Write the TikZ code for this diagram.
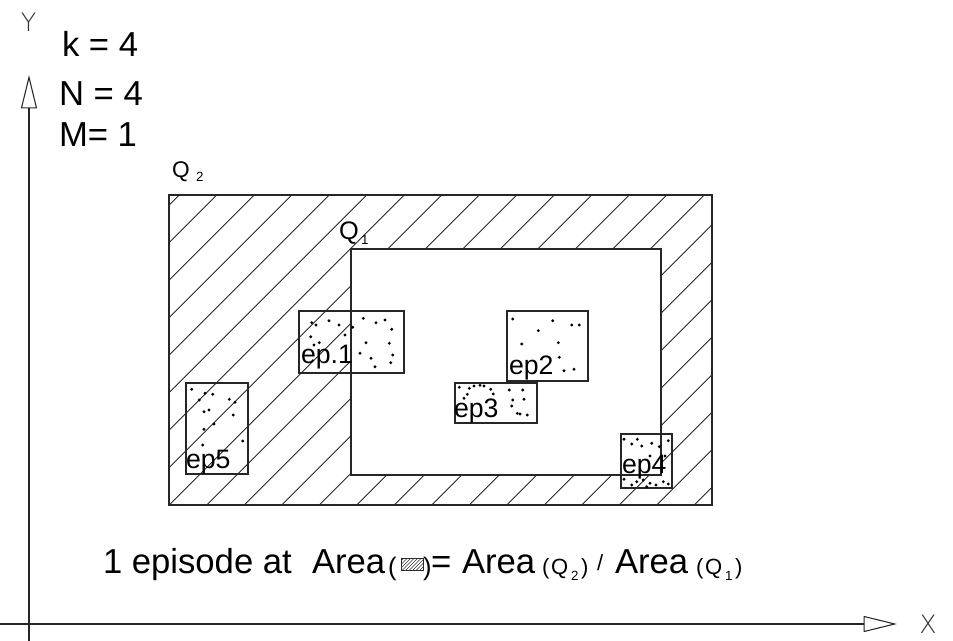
\documentclass[tikz,border=0pt]{standalone}
\usepackage{fontspec}
\setmainfont{Liberation Sans}
\newfontfamily\thinfont{DejaVu Sans ExtraLight}
\usetikzlibrary{arrows.meta}
\begin{document}
\begin{tikzpicture}[x=0.75pt,y=-0.75pt,
  ln/.style={draw=black!85, line width=0.8pt},
  hatch/.style={draw=black!85, line width=0.6pt},
  lbl/.style={inner sep=0pt, outer sep=0pt, anchor=base west},
  big/.style={lbl, font=\fontsize{26}{30}\selectfont},
  form/.style={lbl, font=\fontsize{26}{30}\selectfont},
  paren/.style={lbl, font=\fontsize{19}{22}\selectfont},
  smallq/.style={lbl, font=\fontsize{16.5}{19}\selectfont},
  sub/.style={lbl, font=\fontsize{10}{11}\selectfont},
  eplbl/.style={lbl, font=\fontsize{20}{24}\selectfont},
  axlbl/.style={inner sep=0pt, font=\thinfont\fontsize{19}{22}\selectfont, text=black!80},
  axarrow/.style={ln, -{Triangle[open, length=25pt, width=12pt]}}]
\useasboundingbox (0,0) rectangle (953,641);

% axes
\coordinate (yorig) at (29,641);
\coordinate (ytip) at (29,75);
\coordinate (xorig) at (0,624);
\coordinate (xtip) at (897,624);
\draw[axarrow] (yorig) -- (ytip);
\draw[axarrow] (xorig) -- (xtip);
\node[axlbl] (ylab) at (28.5,22) {Y};
\node[axlbl] (xlab) at (928,624) {X};

% parameters
\node[big] (k) at (62,57) {k = 4};
\node[big] (n) at (59,106) {N = 4};
\node[big] (m) at (59,147) {M= 1};

% hatching of Q2 minus Q1
\begin{scope}
  \clip (169,195) -- (712,195) -- (712,505) -- (169,505) -- cycle
        (351,249) -- (351,475) -- (661,475) -- (661,249) -- cycle;
  \foreach \n in {0,...,23} {
    \pgfmathsetmacro\c{374.3+37.5*\n}
    \draw[hatch] ({\c-100},100) -- ({\c-600},600);
  }
\end{scope}
\draw[ln] (169,195) rectangle (712,505);
\draw[ln] (351,249) rectangle (661,475);

% Q labels
\node[lbl, font=\fontsize{17}{20}\selectfont] (q2) at (172,178) {Q};
\node[sub] (q2s) at (196,182) {2};
\node[lbl, font=\fontsize{19}{22}\selectfont] (q1) at (339,240) {Q};
\node[sub] (q1s) at (361,245) {1};

% episode boxes
\draw[ln] (299,311) rectangle (404,373);
\draw[ln] (507,311) rectangle (588,381);
\draw[ln] (455,383) rectangle (537,423);
\draw[ln] (621,434) rectangle (672,488);
\draw[ln] (186,383) rectangle (248,474);

\node[eplbl] (ep1) at (301,364) {ep.1};
\node[eplbl] (ep2) at (509,375) {ep2};
\node[eplbl] (ep3) at (454,417) {ep3};
\node[eplbl] (ep4) at (622,474) {ep4};
\node[eplbl] (ep5) at (186,468) {ep5};

% dots
\foreach \x/\y in {
  311.7/322.7, 316/325, 329/320.7, 339/325, 352.7/327.3, 363.3/318.3, 376/322.7,
  385/320, 391.7/329.3, 310.7/336.7, 345/335, 314/345, 319.3/342.7, 366/342.7,
  389.3/343.3, 360/353.3, 371/358.3, 392.7/355, 375/366.7, 390.7/362.7,
  512.7/319, 552.7/320.7, 571.7/325, 579.3/325, 538.3/330.7, 521.7/344,
  558.3/342.7, 559.3/357.3, 564/370.7, 574/369.3,
  459.3/387.3, 469.3/388.3, 474/386, 480/385.3, 484/386, 490.7/389.3,
  509.3/390, 522.7/390, 467.3/394.3, 464/398.3, 493.3/394, 512.7/400,
  524/399.3, 511.7/406, 517.3/413.3, 520/414, 527.3/415,
  191.7/389.3, 199.3/400, 205/393.3, 212.7/394.3, 229.3/399.3, 235/402.3,
  204/411.7, 209/410, 233.3/415, 204/429.3, 214/424, 202.7/445, 242.7/441,
  624/439.3, 631.7/444, 637.3/439.3, 641.7/446, 651.7/443.3, 659.3/446.7,
  668.3/440.7, 650/456, 665/456, 624/479.3, 636.7/481.7, 643.3/480,
  650/483.3, 656/485, 663.3/481.7, 668.3/484, 631.7/485, 646.7/486.7}
  \fill[black] (\x,\y) circle (1.2pt);

% bottom formula
\node[form] (f1) at (103,573) {1 episode at};
\node[form] (f2) at (312,573) {Area};
\node[paren] (f3) at (388,575) {(};
\draw[ln, line width=0.6pt] (401,558) rectangle (423,570);
\begin{scope}
  \clip (401,558) rectangle (423,570);
  \foreach \n in {0,...,10} {
    \pgfmathsetmacro\c{955+3.5*\n}
    \draw[line width=0.4pt, black!80] ({\c-550},550) -- ({\c-580},580);
  }
\end{scope}
\node[paren] (f4) at (423,575) {)};
\node[form] (f5) at (431,573) {=};
\node[form] (f6) at (462,573) {Area};
\node[smallq] (f7) at (542,574) {(};
\node[smallq] (f8) at (551,574) {Q};
\node[sub] (f9) at (571,580) {2};
\node[smallq] (f10) at (581,574) {)};
\node[smallq] (f11) at (597,570) {/};
\node[form] (f12) at (615,573) {Area};
\node[smallq] (f13) at (696,574) {(};
\node[smallq] (f14) at (705,574) {Q};
\node[sub] (f15) at (725,580) {1};
\node[smallq] (f16) at (735,574) {)};
\end{tikzpicture}
\end{document}
